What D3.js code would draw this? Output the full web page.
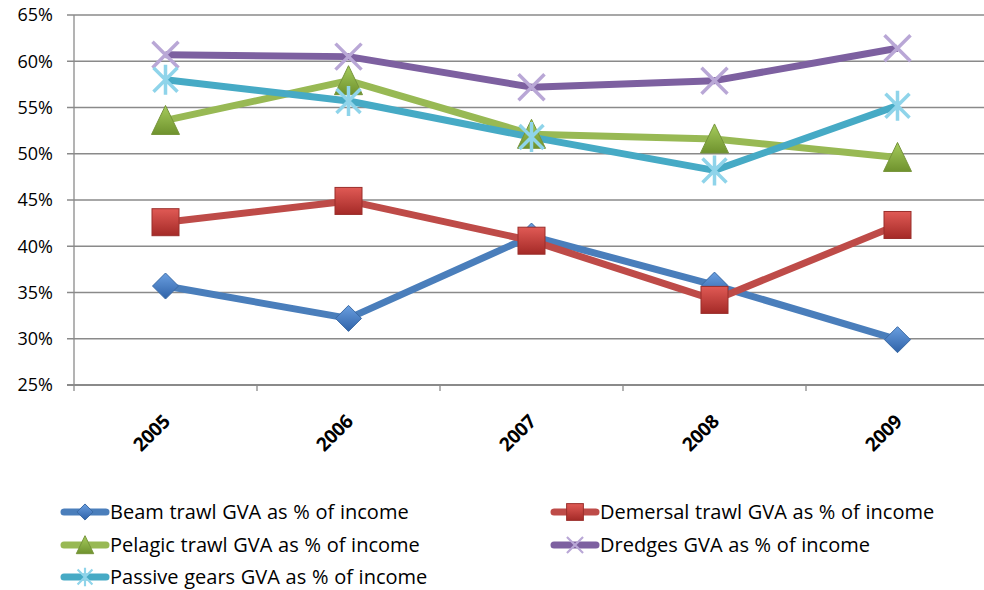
<!DOCTYPE html>
<html><head><meta charset="utf-8">
<script src="https://cdn.jsdelivr.net/npm/d3@7"></script>
<style>body{margin:0;background:#fff}svg{display:block}</style>
</head><body>
<script>
const years = ["2005","2006","2007","2008","2009"];
const beam = [35.7, 32.2, 41.1, 35.8, 29.9];
const demersal = [42.6, 44.9, 40.6, 34.2, 42.3];
const pelagic = [53.6, 57.9, 52.1, 51.6, 49.6];
const dredges = [60.7, 60.5, 57.2, 57.9, 61.4];
const passive = [58.0, 55.7, 51.8, 48.2, 55.2];
const yTicks = [25,30,35,40,45,50,55,60,65];
const seriesNames = ["Beam trawl GVA as % of income","Demersal trawl GVA as % of income","Pelagic trawl GVA as % of income","Dredges GVA as % of income","Passive gears GVA as % of income"];

const W=984,H=590;
const svg=d3.select("body").append("svg").attr("width",W).attr("height",H);
const font="'Open Sans', Lato, sans-serif";
const L=74,R=984,T=15,B=385;
const x=d3.scaleBand().domain(years).range([L,L+5*183]);
const y=d3.scaleLinear().domain([25,65]).range([B,T]);

const defs=svg.append("defs");
function grad(id,c1,c2){const g=defs.append("linearGradient").attr("id",id).attr("x1","0").attr("y1","0").attr("x2","0").attr("y2","1");
 g.append("stop").attr("offset","0").attr("stop-color",c1);g.append("stop").attr("offset","1").attr("stop-color",c2);}
grad("gBeam","#6a9fe0","#2f62a8");
grad("gDem","#e05a55","#a42a27");
grad("gPel","#a6cc5c","#6f922e");

// grid
svg.append("g").selectAll("line").data(yTicks).join("line")
 .attr("x1",67).attr("x2",R).attr("y1",d=>y(d)).attr("y2",d=>y(d))
 .attr("stroke","#8a8a8a").attr("stroke-width",1.3);
// axes
svg.append("line").attr("x1",L).attr("x2",L).attr("y1",T).attr("y2",B+6).attr("stroke","#8a8a8a").attr("stroke-width",1.3);
svg.append("line").attr("x1",67).attr("x2",R).attr("y1",B).attr("y2",B).attr("stroke","#8a8a8a").attr("stroke-width",2);
svg.append("g").selectAll("line").data(years.slice(1)).join("line")
 .attr("x1",d=>x(d)).attr("x2",d=>x(d)).attr("y1",B).attr("y2",B+6).attr("stroke","#8a8a8a").attr("stroke-width",1.3);
svg.append("g").selectAll("text").data(yTicks).join("text")
 .attr("x",53).attr("y",d=>y(d)).attr("dy","0.36em").attr("text-anchor","end")
 .attr("font-family",font).attr("font-size",18).attr("fill","#000").text(d=>d+"%");
svg.append("g").selectAll("text").data(years).join("text")
 .attr("transform",d=>`translate(${x(d)+x.bandwidth()/2+1},${B+33}) rotate(-45)`)
 .attr("text-anchor","end").attr("dy","0.35em")
 .attr("font-family",font).attr("font-size",19).attr("font-weight","bold").attr("letter-spacing","-0.3").attr("fill","#000").text(d=>d);

const cx=d=>x(d)+x.bandwidth()/2;
const series=[
 {vals:beam,color:"#4a7ebb",m:"diamond"},
 {vals:demersal,color:"#be4b48",m:"square"},
 {vals:pelagic,color:"#98b954",m:"triangle"},
 {vals:dredges,color:"#7d60a0",m:"x"},
 {vals:passive,color:"#46aac5",m:"star"}
];
function marker(g,type,px,py,s){
 s=s||1;
 if(type==="diamond"){
  g.append("path").attr("d",`M${px},${py-13*s}L${px+13*s},${py}L${px},${py+13*s}L${px-13*s},${py}Z`)
   .attr("fill","url(#gBeam)").attr("stroke","#3a6aa5").attr("stroke-width",1);
 } else if(type==="square"){
  g.append("rect").attr("x",px-13.5*s).attr("y",py-13.5*s).attr("width",27*s).attr("height",27*s)
   .attr("fill","url(#gDem)").attr("stroke","#9a2e2b").attr("stroke-width",1);
 } else if(type==="triangle"){
  g.append("path").attr("d",`M${px},${py-15*s}L${px+14*s},${py+14*s}L${px-14*s},${py+14*s}Z`)
   .attr("fill","url(#gPel)").attr("stroke","#76943a").attr("stroke-width",1);
 } else if(type==="x"){
  const k=13*s;
  g.append("path").attr("d",`M${px-k},${py-k}L${px+k},${py+k}M${px+k},${py-k}L${px-k},${py+k}`)
   .attr("stroke","#b9a7d6").attr("stroke-width",3.5*s).attr("fill","none");
 } else if(type==="star"){
  const k=12*s,v=15*s;
  g.append("path").attr("d",`M${px-k},${py-k}L${px+k},${py+k}M${px+k},${py-k}L${px-k},${py+k}M${px},${py-v}L${px},${py+v}`)
   .attr("stroke","#8fd4ea").attr("stroke-width",3.5*s).attr("fill","none");
 }
}
const line=d3.line().x((d,i)=>cx(years[i])).y(d=>y(d));
series.forEach(s=>{
 svg.append("path").datum(s.vals).attr("d",line).attr("fill","none").attr("stroke",s.color).attr("stroke-width",7).attr("stroke-linejoin","round");
});
series.forEach(s=>{
 const g=svg.append("g");
 s.vals.forEach((v,i)=>marker(g,s.m,cx(years[i]),y(v)));
});

// legend
const legPos=[[60,512],[550,512],[60,545],[550,545],[60,577]];
series.forEach((s,i)=>{
 const [lx,ly]=legPos[i];
 const g=svg.append("g");
 g.append("line").attr("x1",lx+4).attr("x2",lx+46).attr("y1",ly).attr("y2",ly).attr("stroke",s.color).attr("stroke-width",7).attr("stroke-linecap","round");
 marker(g,s.m,lx+25,ly,0.62);
 g.append("text").attr("x",lx+50).attr("y",ly).attr("dy","0.36em").attr("font-family",font).attr("font-size",20).attr("word-spacing","0.5").attr("fill","#000").text(seriesNames[i]);
});
</script>
</body></html>
